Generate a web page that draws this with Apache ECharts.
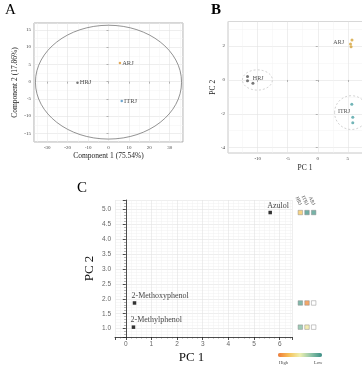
<!DOCTYPE html>
<html><head><meta charset="utf-8">
<script src="https://cdn.jsdelivr.net/npm/echarts@6/dist/echarts.min.js"></script>
<style>html,body{margin:0;padding:0;background:#fff}#c{width:362px;height:369px}</style>
</head><body><div id="c"></div>
<script>
// ---- Panel A (PLS-DA scores) ----
const panelAGroups = ['ARJ', 'HRJ', 'ITRJ'];
const panelAComp1 = [5.6, -15.2, 6.5];
const panelAComp2 = [5.4, -0.3, -5.6];
const panelAEllipse = [0, -0.15, 35.8, 16.5]; // cx, cy, rx, ry (data units)

// ---- Panel B (PCA scores) ----
const panelBHrjPc1 = [-11.7, -11.7, -10.8];
const panelBHrjPc2 = [0.2, -0.04, -0.2];
const panelBArjPc1 = [5.7, 5.45, 5.55];
const panelBArjPc2 = [2.37, 2.13, 1.97];
const panelBItrjPc1 = [5.67, 5.83, 5.83];
const panelBItrjPc2 = [-1.44, -2.2, -2.53];
const panelBEllipseHrj = [-10.05, 0, 2.5, 0.6];
const panelBEllipseItrj = [5.6, -1.93, 2.8, 1.0];
const panelBLabelNames = ['HRJ', 'ARJ', 'ITRJ'];
const panelBLabelPc1 = [-10.9, 4.45, 5.45];
const panelBLabelPc2 = [0.12, 2.2, -1.88];

// ---- Panel C (compound loadings + heat squares) ----
const compounds = ['Azulol', '2-Methoxyphenol', '2-Methylphenol'];
const compoundPc1 = [5.63, 0.34, 0.30];
const compoundPc2 = [4.89, 1.86, 1.05];
const heatGroups = ['HRJ', 'ITRJ', 'ARJ'];
const heatValues = [
  [0.72, 0.05, 0.08],
  [0.12, 0.92, null],
  [0.22, 0.55, null]
];

const serif = 'Liberation Serif';
const sans = 'Liberation Sans';
const colA = {ARJ: '#e0952e', HRJ: '#555555', ITRJ: '#4a8fc0'};
const colB = {ARJ: '#d4a23a', HRJ: '#555555', ITRJ: '#4fa3a5'};

function ellipseSeries(e, xi, yi) {
  return {
    type: 'custom', xAxisIndex: xi, yAxisIndex: yi, silent: true, z: 1,
    data: [e],
    encode: {x: 0, y: 1},
    renderItem: function (params, api) {
      const c = api.coord([api.value(0), api.value(1)]);
      const s = api.size([api.value(2), api.value(3)]);
      return {
        type: 'ellipse',
        shape: {cx: c[0], cy: c[1], rx: s[0], ry: s[1]},
        style: {fill: 'none', stroke: e === panelAEllipse ? '#777' : '#c8c8c8', lineWidth: 0.8,
                lineDash: e === panelAEllipse ? null : [2, 2]}
      };
    }
  };
}

function frameAxis(min, max, splitNumber, name, gap, isY) {
  return {
    type: 'value', min: min, max: max, splitNumber: splitNumber,
    name: name, nameLocation: 'middle', nameGap: gap,
    nameTextStyle: {fontFamily: serif, fontSize: 7.5, color: '#222'},
    axisLine: {show: false},
    axisTick: {show: true, length: 2, lineStyle: {color: '#888', width: 0.6}},
    axisLabel: {fontFamily: serif, fontSize: 5, color: '#444', margin: 3, showMinLabel: false, showMaxLabel: false},
    splitLine: {show: true, lineStyle: {color: '#e3e3e3', width: 0.6}},
    minorTick: {show: false, splitNumber: 2},
    minorSplitLine: {show: true, lineStyle: {color: '#f2f2f2', width: 0.5}}
  };
}

const heatPresent = [];
const heatMissing = [];
heatValues.forEach(function (row, r) {
  row.forEach(function (v, c) {
    if (v === null) heatMissing.push([c, compoundPc2[r]]);
    else heatPresent.push([c, compoundPc2[r], v]);
  });
});

const bGroups = [
  {name: 'HRJ', x: panelBHrjPc1, y: panelBHrjPc2},
  {name: 'ARJ', x: panelBArjPc1, y: panelBArjPc2},
  {name: 'ITRJ', x: panelBItrjPc1, y: panelBItrjPc2}
];

const series = [];
// Panel A
series.push(ellipseSeries(panelAEllipse, 0, 0));
series.push({
  type: 'scatter', xAxisIndex: 0, yAxisIndex: 0, symbolSize: 2.5,
  data: panelAGroups.map(function (g, i) {
    return {value: [panelAComp1[i], panelAComp2[i]], name: g, itemStyle: {color: colA[g]}};
  }),
  label: {show: true, position: 'right', distance: 1, formatter: '{b}', fontFamily: serif, fontSize: 6.5, color: '#222'}
});
// Panel B
series.push(ellipseSeries(panelBEllipseHrj, 1, 1));
series.push(ellipseSeries(panelBEllipseItrj, 1, 1));
bGroups.forEach(function (g) {
  series.push({
    type: 'scatter', xAxisIndex: 1, yAxisIndex: 1, symbolSize: 3,
    itemStyle: {color: colB[g.name]},
    data: g.x.map(function (x, i) { return [x, g.y[i]]; })
  });
});
series.push({
  type: 'scatter', xAxisIndex: 1, yAxisIndex: 1, symbolSize: 1,
  itemStyle: {color: 'rgba(0,0,0,0)'},
  data: panelBLabelNames.map(function (n, i) {
    return {name: n, value: [panelBLabelPc1[i], panelBLabelPc2[i]],
      label: {position: i === 0 ? 'right' : 'left'}};
  }),
  label: {show: true, distance: 0, formatter: '{b}', fontFamily: serif, fontSize: 6, color: '#222'}
});
// Panel C
series.push({
  type: 'scatter', xAxisIndex: 2, yAxisIndex: 2, symbol: 'rect', symbolSize: 3.5,
  itemStyle: {color: '#000'},
  data: compounds.map(function (n, i) { return {name: n, value: [compoundPc1[i], compoundPc2[i]]}; }),
  label: {show: true, position: 'top', distance: 1, align: 'left', offset: [-3, 0], formatter: '{b}',
          fontFamily: serif, fontSize: 8, color: '#111'}
});
const heatSeriesIndex = series.length;
series.push({
  type: 'scatter', xAxisIndex: 3, yAxisIndex: 3, symbol: 'rect', symbolSize: 4.5,
  itemStyle: {borderColor: '#8a8a8a', borderWidth: 0.6},
  data: heatPresent
});
series.push({
  type: 'scatter', xAxisIndex: 3, yAxisIndex: 3, symbol: 'rect', symbolSize: 4.5,
  itemStyle: {color: '#fff', borderColor: '#8a8a8a', borderWidth: 0.6},
  data: heatMissing
});

const option = {
  animation: false,
  backgroundColor: '#fff',
  textStyle: {fontFamily: serif},
  grid: [
    {left: 34, top: 23, width: 149, height: 119, show: true, borderColor: '#999', borderWidth: 0.8, outerBoundsMode: 'none'},
    {left: 228, top: 21.5, width: 154, height: 131.5, show: true, borderColor: '#bbb', borderWidth: 0.8, outerBoundsMode: 'none'},
    {left: 115, top: 200, width: 177, height: 137, outerBoundsMode: 'none'},
    {left: 297, top: 200, width: 20, height: 137, outerBoundsMode: 'none'}
  ],
  xAxis: [
    Object.assign(frameAxis(-36.5, 36.5, 7, 'Component 1 (75.54%)', 10, false), {gridIndex: 0}),
    Object.assign(frameAxis(-14.95, 10.7, 5, 'PC 1', 11, false), {gridIndex: 1}),
    {
      gridIndex: 2, type: 'value', min: -0.42, max: 6.48, splitNumber: 7,
      name: 'PC 1', nameLocation: 'middle', nameGap: 14,
      nameTextStyle: {fontFamily: serif, fontSize: 13, color: '#111', padding: [0, 24, 0, 0]},
      axisLine: {show: true, lineStyle: {color: '#222', width: 0.8}},
      axisTick: {show: true, length: 3, lineStyle: {color: '#222', width: 0.8}},
      minorTick: {show: true, splitNumber: 5, length: 1.5, lineStyle: {color: '#444', width: 0.5}},
      axisLabel: {fontFamily: sans, fontSize: 6.5, color: '#666', margin: 4, showMinLabel: false, showMaxLabel: false},
      splitLine: {show: true, lineStyle: {color: '#e2e2e2', width: 0.6}},
      minorSplitLine: {show: true, lineStyle: {color: '#f1f1f1', width: 0.5}}
    },
    {
      gridIndex: 3, type: 'category', data: heatGroups, position: 'top', offset: -6,
      axisLine: {show: false}, axisTick: {show: false},
      axisLabel: {interval: 0, rotate: 65, fontFamily: serif, fontSize: 5, color: '#444', margin: 1}
    }
  ],
  yAxis: [
    Object.assign(frameAxis(-17.5, 17, 7, 'Component 2 (17.86%)', 15, true), {gridIndex: 0}),
    Object.assign(frameAxis(-4.32, 3.46, 4, 'PC 2', 8, true), {gridIndex: 1}),
    {
      gridIndex: 2, type: 'value', min: 0.72, max: 5.31, splitNumber: 9,
      name: 'PC 2', nameLocation: 'middle', nameGap: 19,
      nameTextStyle: {fontFamily: serif, fontSize: 13, color: '#111'},
      axisLine: {show: true, lineStyle: {color: '#222', width: 0.8}},
      axisTick: {show: true, length: 3, lineStyle: {color: '#222', width: 0.8}},
      minorTick: {show: true, splitNumber: 5, length: 1.5, lineStyle: {color: '#444', width: 0.5}},
      axisLabel: {fontFamily: sans, fontSize: 6.5, color: '#666', margin: 4, showMinLabel: false, showMaxLabel: false,
                  formatter: function (v) { return v.toFixed(1); }},
      splitLine: {show: true, lineStyle: {color: '#e2e2e2', width: 0.6}},
      minorSplitLine: {show: true, lineStyle: {color: '#f1f1f1', width: 0.5}}
    },
    {
      gridIndex: 3, type: 'value', min: 0.72, max: 5.31, show: false
    }
  ],
  visualMap: [{
    type: 'continuous', orient: 'horizontal', min: 0, max: 1, inverse: true,
    seriesIndex: heatSeriesIndex, dimension: 2, calculable: false,
    itemWidth: 4, itemHeight: 44, left: 278, top: 353, padding: 0, text: null, showLabel: false,
    inRange: {color: ['#3a8f86', '#8ec4a8', '#eef0b0', '#f6c25a', '#f07a36']}
  }],
  graphic: [
    {type: 'text', left: 5, top: 3, style: {text: 'A', font: '15px "Liberation Serif"', fill: '#000'}},
    {type: 'text', left: 211, top: 3, style: {text: 'B', font: 'bold 15px "Liberation Serif"', fill: '#000'}},
    {type: 'text', left: 77, top: 181, style: {text: 'C', font: '15px "Liberation Serif"', fill: '#000'}},
    {type: 'text', left: 279, top: 360, style: {text: 'High', font: '4.5px "Liberation Serif"', fill: '#444'}},
    {type: 'text', left: 314, top: 360, style: {text: 'Low', font: '4.5px "Liberation Serif"', fill: '#444'}}
  ],
  series: series
};

const chart = echarts.init(document.getElementById('c'), null, {renderer: 'canvas'});
chart.setOption(option);
</script>
</body></html>
